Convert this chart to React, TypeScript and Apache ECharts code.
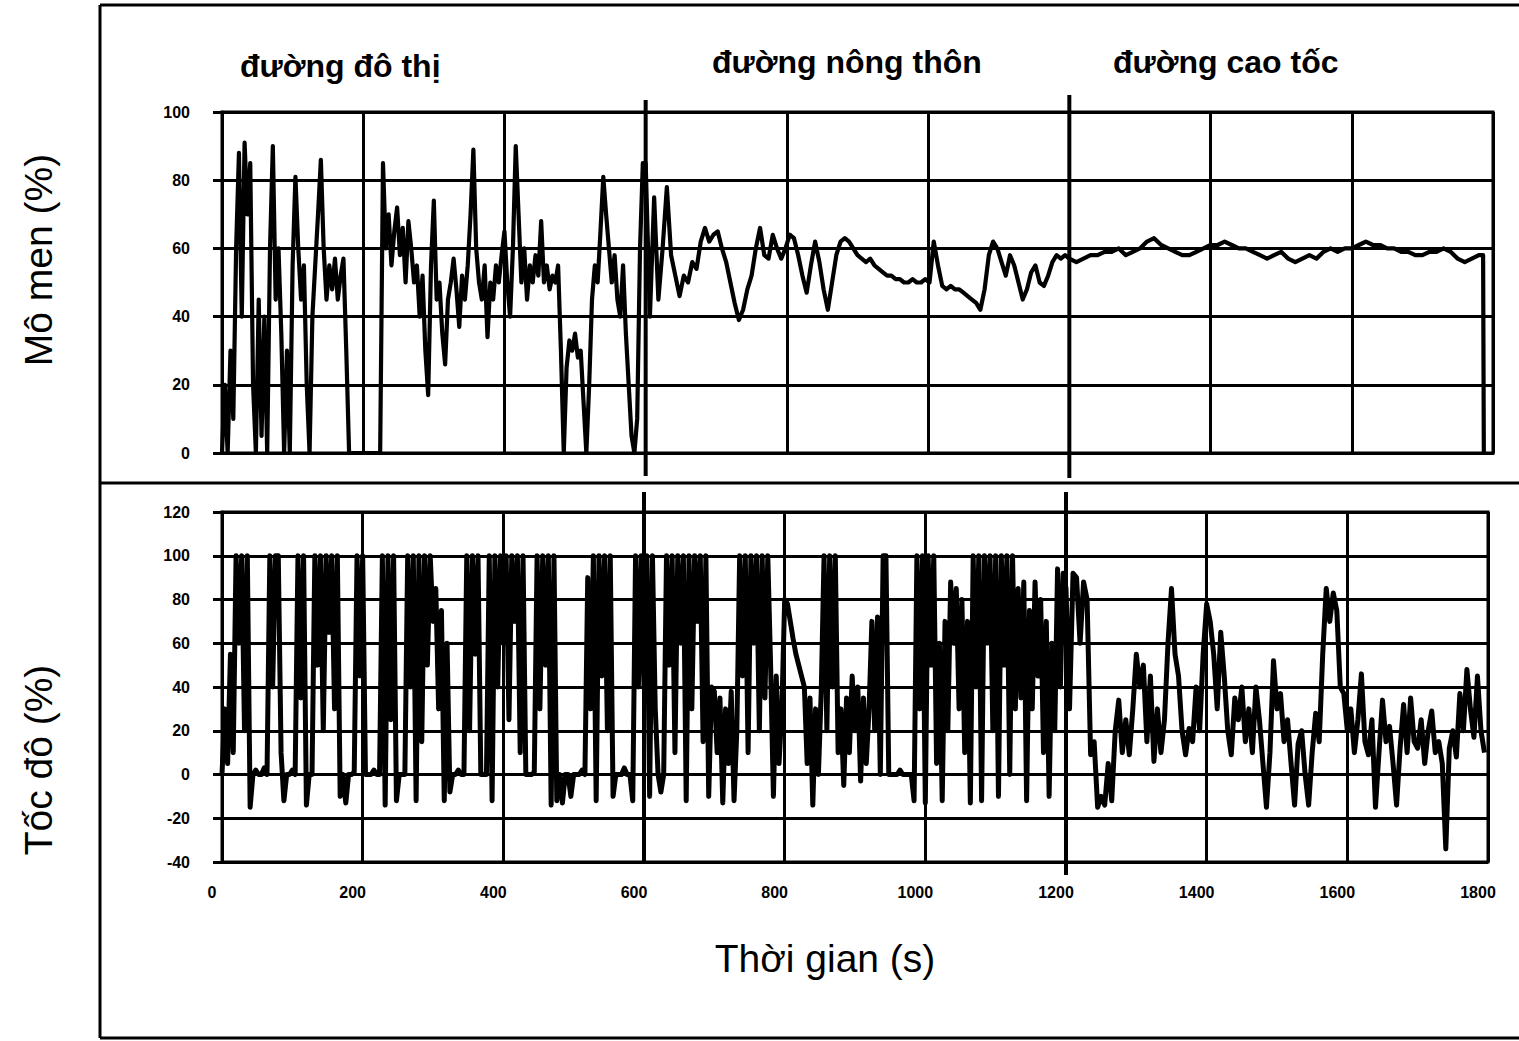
import React, { useEffect, useRef } from "react";
import * as echarts from "echarts";

// ---- Data (time in s, values in %) ----
const sectionLabels = ["đường đô thị", "đường nông thôn", "đường cao tốc"];
const sectionBounds = [600, 1200];

// Torque (Mô men), urban: t = 0..596 step 4
const urbanTorque = [
  0, 20, 0, 30, 10, 60, 88, 40, 91, 70, 85, 20, 0, 45, 5, 40, 0, 60, 90, 45,
  60, 35, 0, 30, 0, 55, 81, 60, 45, 55, 20, 0, 40, 55, 70, 86, 60, 45, 55, 48,
  57, 45, 52, 57, 30, 0, 0, 0, 0, 0, 0, 0, 0, 0, 0, 0, 0, 85, 60, 70,
  55, 65, 72, 58, 66, 50, 68, 60, 50, 55, 40, 52, 30, 17, 55, 74, 45, 50, 35, 26,
  45, 50, 57, 48, 37, 52, 45, 55, 70, 89, 60, 50, 45, 55, 34, 50, 45, 55, 50, 58,
  65, 50, 40, 60, 90, 70, 50, 60, 45, 55, 50, 58, 52, 68, 50, 55, 48, 52, 50, 55,
  30, 0, 25, 33, 30, 35, 28, 30, 15, 0, 20, 45, 55, 50, 65, 81, 70, 60, 50, 58,
  45, 40, 55, 35, 20, 5, 0, 10, 60, 85,
];
// Torque, rural: t = 600..1194 step 6
const ruralTorque = [
  85, 40, 75, 45, 60, 78, 58, 52, 46, 52, 50, 56, 54, 62, 66, 62, 64, 65, 60, 56,
  50, 44, 39, 42, 48, 52, 60, 66, 58, 57, 64, 60, 57, 60, 64, 63, 58, 52, 47, 55,
  62, 56, 48, 42, 50, 58, 62, 63, 62, 60, 58, 57, 56, 57, 55, 54, 53, 52, 52, 51,
  51, 50, 50, 51, 50, 50, 51, 50, 62, 55, 49, 48, 49, 48, 48, 47, 46, 45, 44, 42,
  48, 58, 62, 60, 56, 52, 58, 55, 50, 45, 48, 53, 55, 50, 49, 52, 56, 58, 57, 58,
];
// Torque, motorway: t = 1200..1780 step 10
const motorwayTorque = [
  57, 56, 57, 58, 58, 59, 59, 60, 58, 59, 60, 62, 63, 61, 60, 59, 58, 58, 59, 60,
  61, 61, 62, 61, 60, 60, 59, 58, 57, 58, 59, 57, 56, 57, 58, 57, 59, 60, 59, 60,
  60, 61, 62, 61, 61, 60, 60, 59, 59, 58, 58, 59, 59, 60, 59, 57, 56, 57, 58,
];
const torqueEndTimes = [1786, 1787];
const torqueEndValues = [58, 0];

// Speed (Tốc đô), urban: t = 0..596 step 4
const urbanSpeed = [
  0, 30, 5, 55, 10, 100, 60, 100, 20, 100, -15, 0, 2, 0, 0, 3, 0, 100, 40, 100,
  100, 10, -12, 0, 0, 2, 0, 100, 35, 100, -14, 0, 0, 100, 50, 100, 20, 100, 65, 100,
  30, 100, -10, 0, -13, 0, 0, 1, 100, 45, 100, 0, 0, 0, 2, 0, 0, 100, -14, 100,
  25, 100, -12, 0, 0, 0, 100, 40, 100, -12, 100, 15, 100, 50, 100, 70, 85, 30, 75, -12,
  60, -8, 0, 0, 2, 0, 0, 100, 20, 100, 55, 100, 0, 0, 0, 100, -12, 100, 40, 100,
  60, 100, 25, 100, 70, 100, 10, 100, 0, 0, 0, 1, 100, 30, 100, 50, 100, -14, 100, -12,
  0, -13, 0, 0, -10, 0, 0, 0, 2, 0, 90, 30, 100, -12, 100, 45, 100, 20, 100, -10,
  0, 0, 0, 3, 0, 0, -12, 100, 40, 100,
];
// Speed, rural: t = 600..1196 step 4
const ruralSpeed = [
  40, 100, -10, 100, 30, 0, -8, 0, 100, 50, 100, 10, 100, 60, 100, -12, 100, 30, 100, 70,
  100, 15, 100, -10, 40, 38, 10, 35, -13, 30, 5, 38, -12, 20, 100, 45, 100, 10, 100, 60,
  100, 20, 100, 35, 100, 50, -10, 45, 5, 30, 80, 78, 70, 62, 55, 50, 45, 40, 5, 35,
  -14, 30, 0, 38, 100, 20, 100, 40, 100, 10, 30, -5, 35, 10, 45, 20, 40, -3, 35, 5,
  30, 70, 20, 72, 0, 100, 100, 0, 0, 0, 0, 2, 0, 0, 0, 0, -12, 100, 30, 100,
  -13, 100, 50, 100, 5, 60, -12, 70, 20, 88, 60, 85, 30, 80, 10, 70, -13, 100, 40, 100,
  -12, 100, 60, 100, 20, 100, -10, 100, 50, 100, 0, 100, 30, 85, 35, 88, -12, 75, 30, 88,
  45, 80, 10, 70, -10, 60, 20, 94, 40, 92,
];
// Speed, motorway: t = 1200..1795 step 5
const motorwaySpeed = [
  85, 30, 92, 90, 60, 88, 80, 9, 15, -15, -10, -14, 5, -12, 20, 34, 10, 25, 9, 30,
  55, 40, 50, 15, 45, 6, 30, 10, 25, 60, 85, 55, 45, 20, 9, 21, 15, 40, 20, 55,
  78, 70, 55, 30, 65, 45, 20, 9, 35, 25, 40, 15, 30, 10, 40, 25, 5, -15, 10, 52,
  30, 37, 15, 25, 5, -14, 14, 20, 0, -14, 10, 28, 15, 55, 85, 70, 83, 75, 40, 37,
  20, 30, 10, 25, 46, 15, 9, 25, -15, 10, 34, 15, 22, 5, -14, 12, 32, 10, 35, 15,
  12, 25, 5, 20, 29, 10, 15, 5, -34, 12, 20, 8, 37, 20, 48, 30, 17, 45, 20, 10,
];

function pairs(start: number, step: number, vals: number[]) {
  return vals.map((v, i) => [start + i * step, v]);
}

const BLACK = "#000";
const tickFont = { fontFamily: "Liberation Sans", fontWeight: "bold" as const, fontSize: 16, color: BLACK };

export default function App() {
  const ref = useRef<HTMLDivElement>(null);
  useEffect(() => {
    const chart = echarts.init(ref.current!, null, { renderer: "svg" });
    const torque = [
      ...pairs(0, 4, urbanTorque),
      ...pairs(600, 6, ruralTorque),
      ...pairs(1200, 10, motorwayTorque),
      ...torqueEndTimes.map((t, i) => [t, torqueEndValues[i]]),
    ];
    const speed = [
      ...pairs(0, 4, urbanSpeed),
      ...pairs(600, 4, ruralSpeed),
      ...pairs(1200, 5, motorwaySpeed),
    ];
    const gridLine = { lineStyle: { color: BLACK, width: 3 } };
    chart.setOption({
      animation: false,
      backgroundColor: "#fff",
      grid: [
        { left: 222, top: 112, width: 1271, height: 341, show: true, borderColor: BLACK, borderWidth: 3 },
        { left: 222, top: 512, width: 1266, height: 350, show: true, borderColor: BLACK, borderWidth: 3 },
      ],
      xAxis: [
        {
          type: "value", gridIndex: 0, min: 0, max: 1800, interval: 200,
          axisLabel: { show: false }, axisTick: { show: false },
          axisLine: { show: true, ...gridLine }, splitLine: { show: true, ...gridLine },
        },
        {
          type: "value", gridIndex: 1, min: 0, max: 1800, interval: 200,
          axisLabel: { ...tickFont, margin: 22, padding: [0, 20, 0, 0], formatter: (v: number) => String(v) },
          axisTick: { show: false },
          axisLine: { show: true, ...gridLine }, splitLine: { show: true, ...gridLine },
        },
      ],
      yAxis: [
        {
          type: "value", gridIndex: 0, min: 0, max: 100, interval: 20,
          axisLabel: { ...tickFont, margin: 32 },
          axisTick: { show: true, length: 9, lineStyle: { color: BLACK, width: 3 } },
          axisLine: { show: true, ...gridLine }, splitLine: { show: true, ...gridLine },
        },
        {
          type: "value", gridIndex: 1, min: -40, max: 120, interval: 20,
          axisLabel: { ...tickFont, margin: 32 },
          axisTick: { show: true, length: 9, lineStyle: { color: BLACK, width: 3 } },
          axisLine: { show: true, ...gridLine }, splitLine: { show: true, ...gridLine },
        },
      ],
      series: [
        {
          type: "line", xAxisIndex: 0, yAxisIndex: 0, data: torque, symbol: "none",
          lineStyle: { color: BLACK, width: 4.2, join: "round" }, z: 5,
        },
        {
          type: "line", xAxisIndex: 1, yAxisIndex: 1, data: speed, symbol: "none",
          lineStyle: { color: BLACK, width: 5, join: "round" }, z: 5,
        },
      ],
    });

    const sepLines: any[] = [];
    sectionBounds.forEach((b, k) => {
      const pTop = chart.convertToPixel({ gridIndex: 0 }, [b, 0]) as number[];
      const pBot = chart.convertToPixel({ gridIndex: 1 }, [b, 0]) as number[];
      sepLines.push({
        type: "line", z: 10,
        shape: { x1: pTop[0], y1: k === 0 ? 100 : 95, x2: pTop[0], y2: k === 0 ? 476 : 478 },
        style: { stroke: BLACK, lineWidth: 4 },
      });
      sepLines.push({
        type: "line", z: 10,
        shape: { x1: pBot[0], y1: 492, x2: pBot[0], y2: k === 0 ? 864 : 875 },
        style: { stroke: BLACK, lineWidth: 4 },
      });
    });

    const sectionFont = { fontFamily: "Liberation Sans", fontWeight: "bold", fontSize: 32, fill: BLACK };
    const titleFont = { fontFamily: "Liberation Sans", fontWeight: "normal", fontSize: 39, fill: BLACK };

    chart.setOption({
      graphic: [
        // outer frame and divider
        { type: "line", shape: { x1: 100, y1: 5, x2: 1519, y2: 5 }, style: { stroke: BLACK, lineWidth: 3 } },
        { type: "line", shape: { x1: 100, y1: 5, x2: 100, y2: 1038 }, style: { stroke: BLACK, lineWidth: 3 } },
        { type: "line", shape: { x1: 100, y1: 1038, x2: 1519, y2: 1038 }, style: { stroke: BLACK, lineWidth: 3 } },
        { type: "line", shape: { x1: 100, y1: 483, x2: 1519, y2: 483 }, style: { stroke: BLACK, lineWidth: 3 } },
        ...sepLines,
        { type: "text", x: 240, y: 66, style: { text: sectionLabels[0], ...sectionFont, textVerticalAlign: "middle" } },
        { type: "text", x: 712, y: 62, style: { text: sectionLabels[1], ...sectionFont, textVerticalAlign: "middle" } },
        { type: "text", x: 1113, y: 62, style: { text: sectionLabels[2], ...sectionFont, textVerticalAlign: "middle" } },
        {
          type: "text", x: 38, y: 260, rotation: Math.PI / 2,
          style: { text: "Mô men (%)", ...titleFont, textAlign: "center", textVerticalAlign: "middle" },
        },
        {
          type: "text", x: 38, y: 760, rotation: Math.PI / 2,
          style: { text: "Tốc đô (%)", ...titleFont, textAlign: "center", textVerticalAlign: "middle" },
        },
        {
          type: "text", x: 825, y: 958,
          style: { text: "Thời gian (s)", ...titleFont, textAlign: "center", textVerticalAlign: "middle" },
        },
      ],
    });

    return () => chart.dispose();
  }, []);

  return (
    <div
      ref={ref}
      style={{ position: "absolute", left: 0, top: 0, width: 1519, height: 1041, background: "#fff" }}
    />
  );
}
